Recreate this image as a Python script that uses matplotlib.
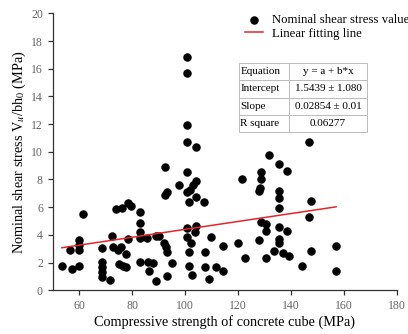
import numpy as np
import matplotlib
matplotlib.use("Agg")
import matplotlib.pyplot as plt

plt.rcParams['font.family'] = ['Liberation Serif', 'DejaVu Serif']
plt.rcParams['mathtext.fontset'] = 'stix'

# compressive strength (MPa) and nominal shear stress (MPa)
fcu = [53.5, 57.2, 56.6, 59.8, 59.8, 59.8, 60.1, 61.6, 68.8, 68.6, 68.6, 68.6, 68.6,
       71.7, 72.3, 72.9, 73.8, 74.8, 75.8, 75.1, 76.1, 76.5, 77.6, 78.4, 78.6, 79.6, 77.8,
       83.0, 83.0, 83.0, 83.0, 85.5, 83.0, 85.9, 86.2, 88.0, 88.9, 89.1, 90.3,
       92.5, 93.3, 92.5, 92.1, 92.8, 93.3, 95.0, 93.3, 97.8,
       100.6, 100.6, 100.6, 100.6, 104.2, 100.6, 104.2, 103.1, 101.9, 100.6, 101.6, 104.2,
       107.2, 100.6, 104.2, 103.8, 100.6, 102.2, 101.3, 101.6, 102.5, 107.5, 107.5, 109.2,
       109.8, 111.7, 114.2, 114.2, 120.1, 121.4, 122.6, 128.6, 128.6, 128.3, 128.0, 131.8,
       135.6, 138.4, 135.6, 135.6, 135.6, 128.6, 130.6, 130.6, 135.6, 138.4, 128.0, 135.6,
       135.6, 130.6, 133.7, 137.1, 139.4, 144.0, 146.9, 147.5, 146.9, 147.6, 157.0, 157.0]
tau = [1.78, 1.52, 2.91, 3.63, 3.27, 2.91, 1.78, 5.51, 3.05, 2.05, 1.70, 1.34, 0.98,
       0.72, 3.90, 3.15, 5.87, 2.91, 3.15, 1.92, 5.97, 1.78, 2.60, 6.28, 3.70, 6.11, 1.65,
       5.68, 4.83, 4.23, 3.80, 3.80, 2.07, 2.07, 1.40, 1.95, 0.67, 3.92, 3.92,
       8.88, 7.12, 6.88, 3.39, 3.10, 2.79, 2.00, 1.03, 7.60,
       16.87, 15.67, 11.94, 10.73, 10.37, 8.57, 7.91, 7.60, 7.24, 7.12, 6.40, 6.71,
       6.40, 4.47, 4.64, 4.23, 3.83, 3.44, 2.79, 1.75, 1.10, 2.79, 1.70, 0.79,
       3.83, 1.70, 1.39, 3.22, 3.40, 8.01, 2.30, 8.52, 8.01, 7.41, 7.20, 9.77,
       9.10, 8.61, 7.19, 6.64, 5.92, 4.90, 4.79, 4.30, 4.55, 4.30, 3.63, 3.68,
       3.44, 2.31, 2.84, 2.72, 2.48, 1.78, 10.73, 6.47, 5.31, 2.86, 3.22, 1.42]

# linear fit reported on the chart
a, b = 1.5439, 0.02854
fit_rows = [["Equation", "y = a + b*x"],
            ["Intercept", "1.5439 \u00b1 1.080"],
            ["Slope", "0.02854 \u00b1 0.01"],
            ["R square", "0.06277"]]

fig = plt.figure(figsize=(4.08, 3.34), dpi=100)
ax = fig.add_axes([0.129, 0.131, 0.844, 0.829])

ax.scatter(fcu, tau, s=26, color='black', zorder=3, label='Nominal shear stress value')
xf = np.array([min(fcu), max(fcu)])
ax.plot(xf, a + b * xf, color='#e8242a', lw=1.1, zorder=4, label='Linear fitting line')

ax.set_xlim(50, 180)
ax.set_ylim(0, 20)
ax.set_xticks(np.arange(60, 181, 20))
ax.set_yticks(np.arange(0, 21, 2))
for s in ['top', 'right']:
    ax.spines[s].set_visible(False)
for s in ['left', 'bottom']:
    ax.spines[s].set_color('#333333')
    ax.spines[s].set_linewidth(0.9)
ax.tick_params(direction='out', length=3.5, width=0.9, colors='#333333',
               labelsize=8.5, labelcolor='#666666')

ax.set_xlabel('Compressive strength of concrete cube (MPa)', fontsize=10.3, labelpad=2)
ax.set_ylabel(r'Nominal shear stress V$_u$/bh$_0$ (MPa)', fontsize=10.3, labelpad=2)

ax.legend(loc='upper left', bbox_to_anchor=(0.544, 1.015), frameon=False, fontsize=9.2,
          handlelength=1.4, handletextpad=0.7, borderaxespad=0, labelspacing=0.12)

tbl = ax.table(cellText=fit_rows, cellLoc='center', colWidths=[0.39, 0.61],
               bbox=[0.541, 0.571, 0.372, 0.25])
tbl.auto_set_font_size(False)
tbl.set_fontsize(8)
for (r, c), cell in tbl.get_celld().items():
    cell.set_edgecolor('#bbbbbb')
    cell.set_linewidth(0.7)
    if c == 0:
        cell.set_text_props(ha='left')
        cell.PAD = 0.03

fig.savefig('out.png', dpi=100)
